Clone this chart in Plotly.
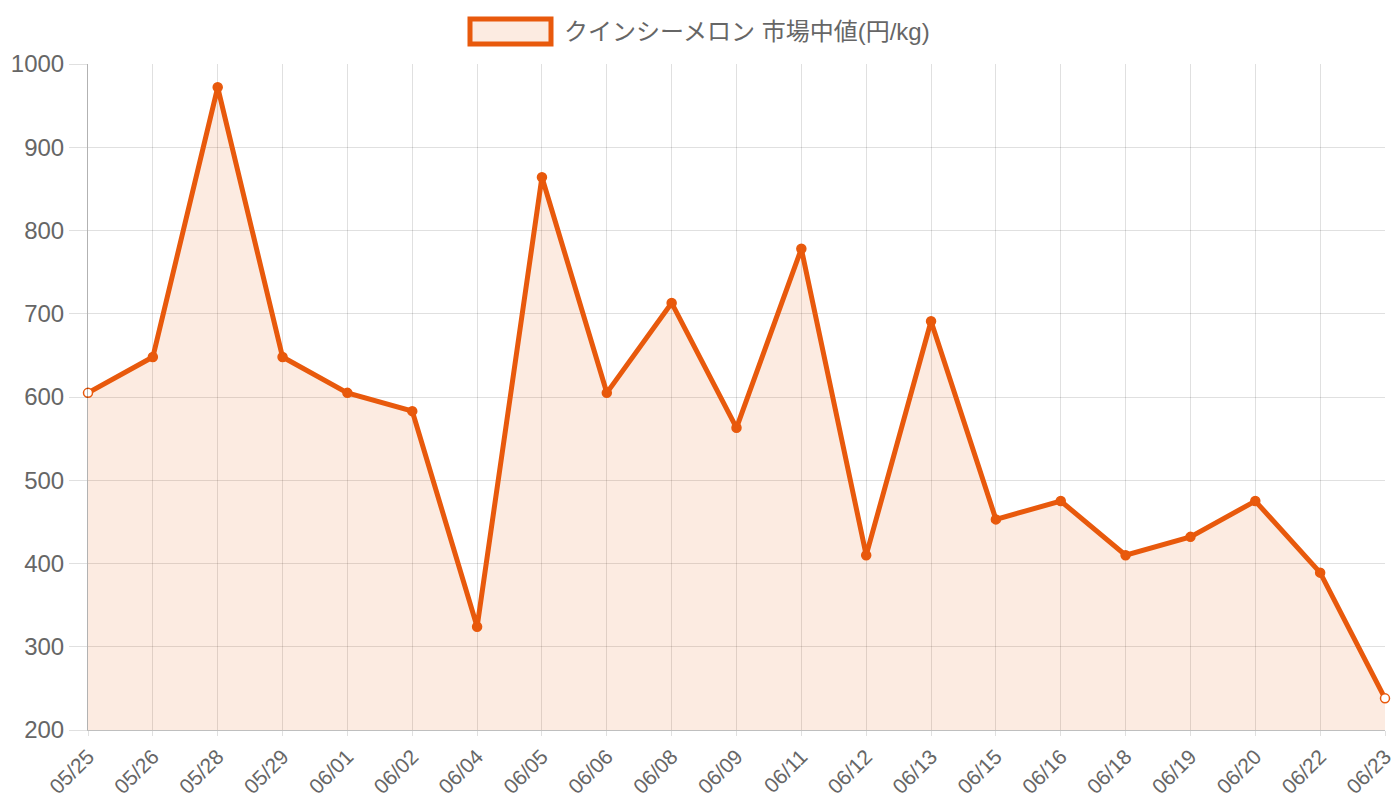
import plotly.graph_objects as go

dates = ["05/25", "05/26", "05/28", "05/29", "06/01", "06/02", "06/04", "06/05", "06/06", "06/08",
         "06/09", "06/11", "06/12", "06/13", "06/15", "06/16", "06/18", "06/19", "06/20", "06/22", "06/23"]
prices = [605, 648, 972, 648, 605, 583, 324, 864, 605, 713,
          563, 778, 410, 691, 453, 475, 410, 432, 475, 389, 238]
series_name = "クインシーメロン 市場中値(円/kg)"

ORANGE = "#E8590C"
FILL = "rgba(232,89,12,0.12)"
FONT = "Liberation Sans, Noto Sans CJK JP, Arial, sans-serif"

marker_fill = ["white" if i in (0, len(prices) - 1) else ORANGE for i in range(len(prices))]

fig = go.Figure()
fig.add_trace(go.Scatter(
    x=list(range(len(dates))), y=prices, mode="lines+markers", name=series_name,
    line=dict(color=ORANGE, width=5),
    fill="tozeroy", fillcolor=FILL,
    marker=dict(size=9, color=marker_fill, line=dict(color=ORANGE, width=1.5)),
    cliponaxis=False, showlegend=False,
))

fig.update_layout(
    width=1400, height=800,
    margin=dict(l=88, r=15, t=64, b=70),
    paper_bgcolor="white", plot_bgcolor="white",
    font=dict(family=FONT, color="#666666", size=24),
    xaxis=dict(
        tickmode="array", tickvals=list(range(len(dates))), ticktext=dates,
        range=[0, len(dates) - 1], tickangle=-45, automargin=False,
        showgrid=True, gridcolor="rgba(0,0,0,0.12)", gridwidth=1,
        showline=True, linecolor="rgba(0,0,0,0.25)", linewidth=1,
        ticks="outside", ticklen=5, tickcolor="rgba(0,0,0,0.12)",
        tickfont=dict(size=21, color="#666666"), zeroline=False,
    ),
    yaxis=dict(
        range=[200, 1000], dtick=100, automargin=False,
        showgrid=True, gridcolor="rgba(0,0,0,0.12)", gridwidth=1,
        showline=True, linecolor="rgba(0,0,0,0.3)", linewidth=1,
        ticks="outside", ticklen=18, tickcolor="rgba(0,0,0,0.12)",
        tickfont=dict(size=24, color="#666666"), zeroline=False,
    ),
    shapes=[dict(type="rect", xref="paper", yref="paper",
                 x0=(470 - 88) / 1297, x1=(551 - 88) / 1297,
                 y0=(730 - 44) / 666, y1=(730 - 19) / 666,
                 line=dict(color=ORANGE, width=5), fillcolor=FILL)],
    annotations=[dict(text=series_name, xref="paper", yref="paper",
                      x=(562 - 88) / 1297, y=(730 - 32) / 666,
                      xanchor="left", yanchor="middle", showarrow=False,
                      font=dict(size=24, color="#666666", family=FONT))],
)

fig.write_html("out.html")
